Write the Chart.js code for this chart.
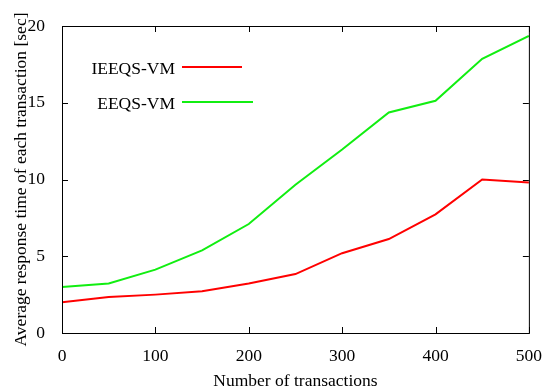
<!DOCTYPE html>
<html>
<head>
<meta charset="utf-8">
<script src="https://cdn.jsdelivr.net/npm/chart.js@4/dist/chart.umd.min.js"></script>
<style>
  html, body { margin: 0; padding: 0; background: #fff; }
  #wrap { width: 547px; height: 392px; }
</style>
</head>
<body>
<div id="wrap"><canvas id="chart" width="547" height="392"></canvas></div>
<script>
const transactions = [0, 50, 100, 150, 200, 250, 300, 350, 400, 450, 500];
const ieeqsVm = [2.0, 2.34, 2.5, 2.72, 3.22, 3.84, 5.2, 6.12, 7.73, 10.0, 9.81];
const eeqsVm = [3.0, 3.23, 4.13, 5.38, 7.1, 9.66, 11.95, 14.37, 15.13, 17.86, 19.35];
const xTicks = [0, 100, 200, 300, 400, 500];
const yTicks = [0, 5, 10, 15, 20];

const serif = "'Liberation Serif', 'DejaVu Serif', serif";
const fontSize = 17.5;

// gnuplot style: ticks pointing into the plot on all four sides
const innerTicks = {
  id: "innerTicks",
  afterDraw(chart) {
    const ctx = chart.ctx;
    const a = chart.chartArea;
    const xs = chart.scales.x, ys = chart.scales.y;
    const len = 6;
    ctx.save();
    ctx.strokeStyle = "#000";
    ctx.lineWidth = 1;
    ctx.beginPath();
    xTicks.forEach(v => {
      const px = Math.round(xs.getPixelForValue(v)) + 0.5;
      ctx.moveTo(px, a.bottom); ctx.lineTo(px, a.bottom - len);
      ctx.moveTo(px, a.top); ctx.lineTo(px, a.top + len);
    });
    yTicks.forEach(v => {
      const py = Math.round(ys.getPixelForValue(v)) + 0.5;
      ctx.moveTo(a.left, py); ctx.lineTo(a.left + len, py);
      ctx.moveTo(a.right, py); ctx.lineTo(a.right - len, py);
    });
    ctx.stroke();
    ctx.strokeRect(a.left + 0.5, a.top + 0.5, a.right - a.left, a.bottom - a.top);
    ctx.restore();
  }
};

// legend with sample line to the right of the label
const keyBox = {
  id: "keyBox",
  afterDraw(chart) {
    const ctx = chart.ctx;
    const rows = [
      { y: 67, end: 242 },
      { y: 102, end: 253 }
    ];
    ctx.save();
    ctx.font = fontSize + "px " + serif;
    ctx.textAlign = "right";
    ctx.textBaseline = "middle";
    chart.data.datasets.forEach((ds, i) => {
      const r = rows[i];
      ctx.fillStyle = "#000";
      ctx.fillText(ds.label, 175, r.y + 2);
      ctx.strokeStyle = ds.borderColor;
      ctx.lineWidth = 2;
      ctx.beginPath();
      ctx.moveTo(182, r.y);
      ctx.lineTo(r.end, r.y);
      ctx.stroke();
    });
    ctx.restore();
  }
};

new Chart(document.getElementById("chart"), {
  type: "line",
  data: {
    labels: transactions,
    datasets: [
      {
        label: "IEEQS-VM",
        data: transactions.map((x, i) => ({ x: x, y: ieeqsVm[i] })),
        borderColor: "#ff0000",
        borderWidth: 2,
        pointRadius: 0,
        tension: 0
      },
      {
        label: "EEQS-VM",
        data: transactions.map((x, i) => ({ x: x, y: eeqsVm[i] })),
        borderColor: "#11ee11",
        borderWidth: 2,
        pointRadius: 0,
        tension: 0
      }
    ]
  },
  options: {
    responsive: false,
    animation: false,
    layout: { padding: { left: 0, right: 17, top: 26, bottom: 0 } },
    plugins: {
      legend: { display: false },
      tooltip: { enabled: false }
    },
    scales: {
      x: {
        type: "linear",
        min: 0,
        max: 500,
        afterFit: s => { s.height = 59; },
        afterBuildTicks: s => { s.ticks = xTicks.map(v => ({ value: v })); },
        grid: { display: false },
        border: { display: false },
        ticks: { color: "#000", font: { family: serif, size: fontSize }, padding: 5, maxRotation: 0 },
        title: {
          display: true,
          text: "Number of transactions",
          color: "#000",
          font: { family: serif, size: fontSize },
          padding: { top: 0, bottom: 0 }
        }
      },
      y: {
        min: 0,
        max: 20,
        afterFit: s => { s.width = 62; },
        afterBuildTicks: s => { s.ticks = yTicks.map(v => ({ value: v })); },
        grid: { display: false },
        border: { display: false },
        ticks: { color: "#000", font: { family: serif, size: fontSize }, padding: 9 },
        title: {
          display: true,
          text: "Average response time of each transaction [sec]",
          color: "#000",
          font: { family: serif, size: fontSize },
          padding: { top: 11, bottom: 0 }
        }
      }
    }
  },
  plugins: [innerTicks, keyBox]
});
</script>
</body>
</html>
